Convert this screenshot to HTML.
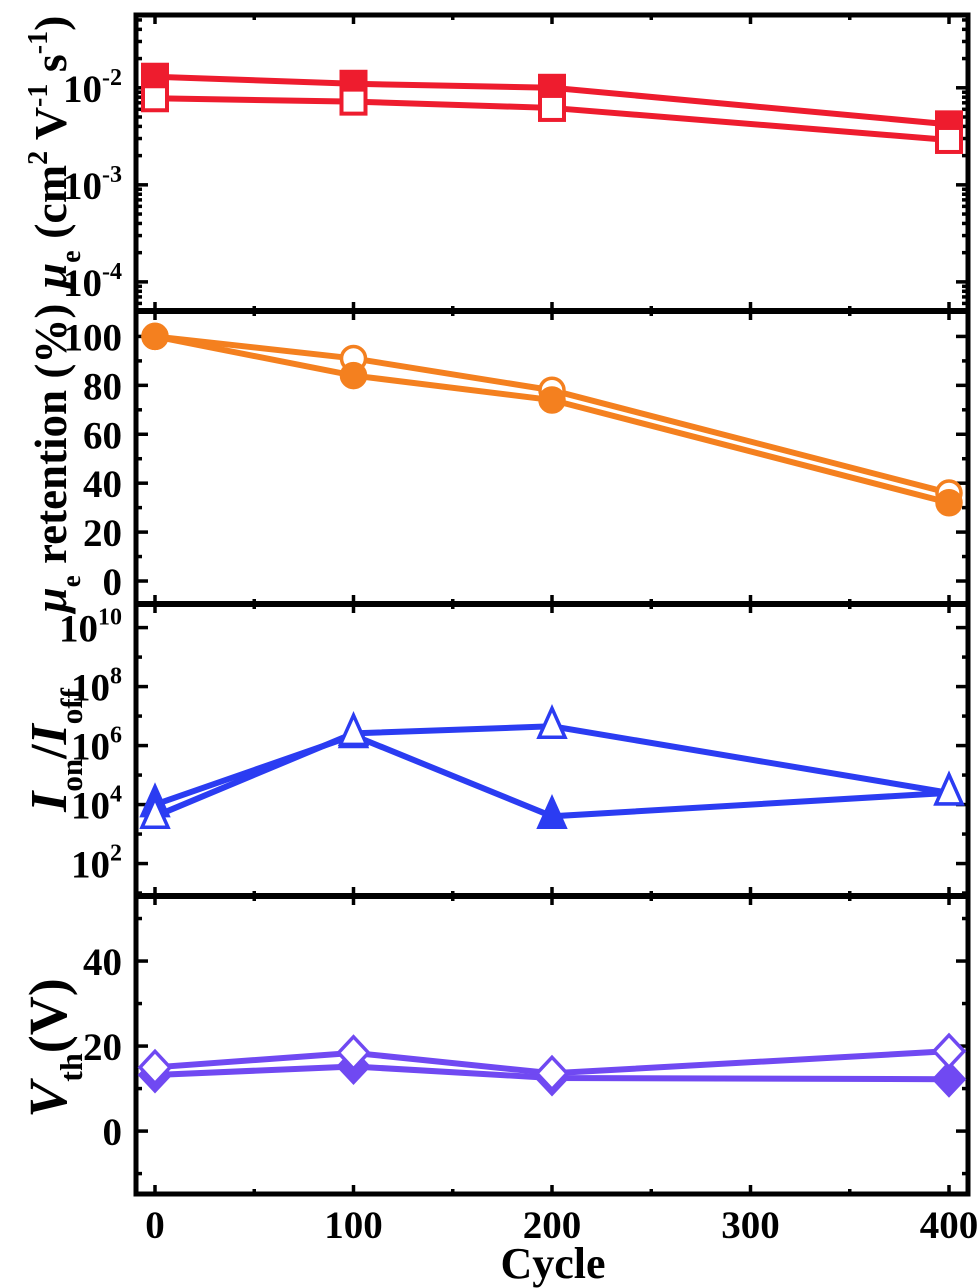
<!DOCTYPE html>
<html><head><meta charset="utf-8"><style>
html,body{margin:0;padding:0;background:#fff;}
svg{display:block;font-family:"Liberation Serif",serif;font-weight:bold;}
</style></head><body>
<svg id="chart" width="979" height="1288" viewBox="0 0 979 1288"></svg>
<script>
const cycles=[0,100,200,400];
const muFilled=[1.3e-2,1.1e-2,1.0e-2,4.2e-3];
const muOpen=[7.8e-3,7.2e-3,6.2e-3,2.9e-3];
const retFilled=[100,84,74,32];
const retOpen=[100,91,78,36];
const ratioFilled=[1e4,2.2e6,4e3,2.5e4];
const ratioOpen=[4e3,2.6e6,4.5e6,2.5e4];
const vthFilled=[13.2,15.2,12.5,12.2];
const vthOpen=[15,18.4,13.6,18.8];
const xTicks=[0,100,200,300,400];
const muTicks=[-4,-3,-2];
const retTicks=[0,20,40,60,80,100];
const ratioTicks=[2,4,6,8,10];
const vthTicks=[0,20,40];

const NS="http://www.w3.org/2000/svg";
const svg=document.getElementById('chart');
function mk(tag,attrs,parent){const e=document.createElementNS(NS,tag);for(const k in attrs)e.setAttribute(k,attrs[k]);(parent||svg).appendChild(e);return e;}
const L=136,R=968;
const X=v=>155+(v-0)*(949-155)/400;

const panels=[
 {name:'mobility',top:15,bot:311,lo:-4.3,hi:-1.25,log:true},
 {name:'retention',top:311,bot:604,lo:-9.4,hi:110.4,log:false},
 {name:'on-off-ratio',top:604,bot:896,lo:0.9,hi:10.8,log:true},
 {name:'threshold-voltage',top:896,bot:1194,lo:-14.8,hi:55.3,log:false}
];
function Yf(p){return v=>{const t=p.log?Math.log10(v):v;return p.bot-(t-p.lo)/(p.hi-p.lo)*(p.bot-p.top);};}
function Yraw(p){return t=>p.bot-(t-p.lo)/(p.hi-p.lo)*(p.bot-p.top);}

panels.forEach(p=>{
 const g=mk('g',{});
 
 
 for(let v=0;v<=400;v+=50){
   const maj=v%100===0,len=maj?9:5;
   mk('line',{x1:X(v),x2:X(v),y1:p.bot,y2:p.bot-len,stroke:'#000','stroke-width':3.5},g);
   mk('line',{x1:X(v),x2:X(v),y1:p.top,y2:p.top+len,stroke:'#000','stroke-width':3.5},g);
 }
});

function yTicks(p,majors,labelFn,minorFn){
 const g=mk('g',{});
 
 
 const Y=Yraw(p);
 majors.forEach(t=>{
   const y=Y(t);
   mk('line',{x1:L,x2:L+12,y1:y,y2:y,stroke:'#000','stroke-width':3.5},g);
   mk('line',{x1:R,x2:R-12,y1:y,y2:y,stroke:'#000','stroke-width':3.5},g);
   labelFn(g,t,y);
 });
 minorFn().forEach(t=>{
   const y=Y(t); if(y<p.top+2||y>p.bot-2)return;
   mk('line',{x1:L,x2:L+6,y1:y,y2:y,stroke:'#000','stroke-width':3.5},g);
   mk('line',{x1:R,x2:R-6,y1:y,y2:y,stroke:'#000','stroke-width':3.5},g);
 });
}
function powLabel(g,t,y){
 const tx=mk('text',{x:122,y:y+14,'text-anchor':'end','font-size':39,fill:'#000'},g);
 tx.textContent='10';
 const s=mk('tspan',{dy:-17,'font-size':24},tx); s.textContent=String(t);
}
function numLabel(g,t,y){const tx=mk('text',{x:122,y:y+14,'text-anchor':'end','font-size':39,fill:'#000'},g);tx.textContent=String(t);}
function logMinors(lo,hi,step){const a=[];for(let d=Math.floor(lo);d<=hi;d+=step){for(let m=2;m<10;m++)a.push(d+Math.log10(m));}return a;}
yTicks(panels[0],muTicks,powLabel,()=>logMinors(-5,-1,1));
yTicks(panels[1],retTicks,numLabel,()=>[-10,10,30,50,70,90,110]);
yTicks(panels[2],ratioTicks,powLabel,()=>[1,3,5,7,9]);
yTicks(panels[3],vthTicks,numLabel,()=>[-10,10,30,50]);

const fr=mk('g',{});


mk('rect',{x:L,y:15,width:R-L,height:1194-15,fill:'none',stroke:'#000','stroke-width':5},fr);
[311,604,896].forEach(y=>mk('line',{x1:L,x2:R,y1:y,y2:y,stroke:'#000','stroke-width':6},fr));

function series(p,vals,color,shape,filled,name){
 const Y=Yf(p);
 const g=mk('g',{});
 
 
 const pts=cycles.map((c,i)=>[X(c),Y(vals[i])]);
 mk('polyline',{points:pts.map(q=>q.join(',')).join(' '),fill:'none',stroke:color,'stroke-width':6},g);
 pts.forEach(([x,y])=>{
  const fill=filled?color:'#fff';
  let m;
  if(shape==='square')m=mk('rect',{x:x-12,y:y-12,width:24,height:24,fill,stroke:color,'stroke-width':4},g);
  else if(shape==='circle')m=mk('circle',{cx:x,cy:y,r:12,fill,stroke:color,'stroke-width':3.5},g);
  else if(shape==='tri')m=mk('polygon',{points:`${x},${y-18} ${x-13},${y+11} ${x+13},${y+11}`,fill,stroke:color,'stroke-width':3.5},g);
  else m=mk('polygon',{points:`${x},${y-16} ${x+15},${y} ${x},${y+16} ${x-15},${y}`,fill,stroke:color,'stroke-width':3.5},g);
  
  
 });
}
series(panels[0],muFilled,'#ee1c2e','square',true,'mobility-filled-series');
series(panels[0],muOpen,'#ee1c2e','square',false,'mobility-open-series');
series(panels[1],retOpen,'#f4801f','circle',false,'retention-open-series');
series(panels[1],retFilled,'#f4801f','circle',true,'retention-filled-series');
series(panels[2],ratioFilled,'#2b3cf2','tri',true,'ratio-filled-series');
series(panels[2],ratioOpen,'#2b3cf2','tri',false,'ratio-open-series');
series(panels[3],vthFilled,'#7049f2','diamond',true,'vth-filled-series');
series(panels[3],vthOpen,'#7049f2','diamond',false,'vth-open-series');

xTicks.forEach(v=>{const t=mk('text',{x:X(v),y:1238,'text-anchor':'middle','font-size':39,fill:'#000'});
 t.textContent=String(v);});
const xt=mk('text',{x:553,y:1278,'text-anchor':'middle','font-size':44,fill:'#000'});
xt.textContent='Cycle';

function ytitle(cy,fs,name,build){
 const t=mk('text',{x:0,y:0,'text-anchor':'middle','font-size':fs,fill:'#000',transform:`translate(66,${cy}) rotate(-90)`});
 
 const sub=Math.round(fs*0.6),d=Math.round(fs*0.3),u=Math.round(fs*0.42);
 build(t,sub,d,u);
}
function sp(t,txt,attrs){const s=mk('tspan',attrs||{},t);s.textContent=txt;return s;}
ytitle(152,46,'mobility-y-title',(t,sub,d,u)=>{sp(t,'μ',{'font-style':'italic'});sp(t,'e',{'font-size':sub,dy:d});sp(t,' (cm',{dy:-d});sp(t,'2',{'font-size':sub,dy:-u});sp(t,' V',{dy:u});sp(t,'-1',{'font-size':sub,dy:-u});sp(t,' s',{dy:u});sp(t,'-1',{'font-size':sub,dy:-u});sp(t,')',{dy:u});});
ytitle(458,45,'retention-y-title',(t,sub,d)=>{sp(t,'μ',{'font-style':'italic'});sp(t,'e',{'font-size':sub,dy:d});sp(t,' retention (%)',{dy:-d});});
ytitle(750,52,'ratio-y-title',(t,sub,d)=>{sp(t,'I',{'font-style':'italic'});sp(t,'on',{'font-size':sub,dy:d});sp(t,'/',{dy:-d});sp(t,'I',{'font-style':'italic'});sp(t,'off',{'font-size':sub,dy:d});});
ytitle(1048,54,'vth-y-title',(t,sub,d)=>{sp(t,'V',{'font-style':'italic'});sp(t,'th',{'font-size':sub,dy:d});sp(t,'(V)',{dy:-d});});
</script>
</body></html>
